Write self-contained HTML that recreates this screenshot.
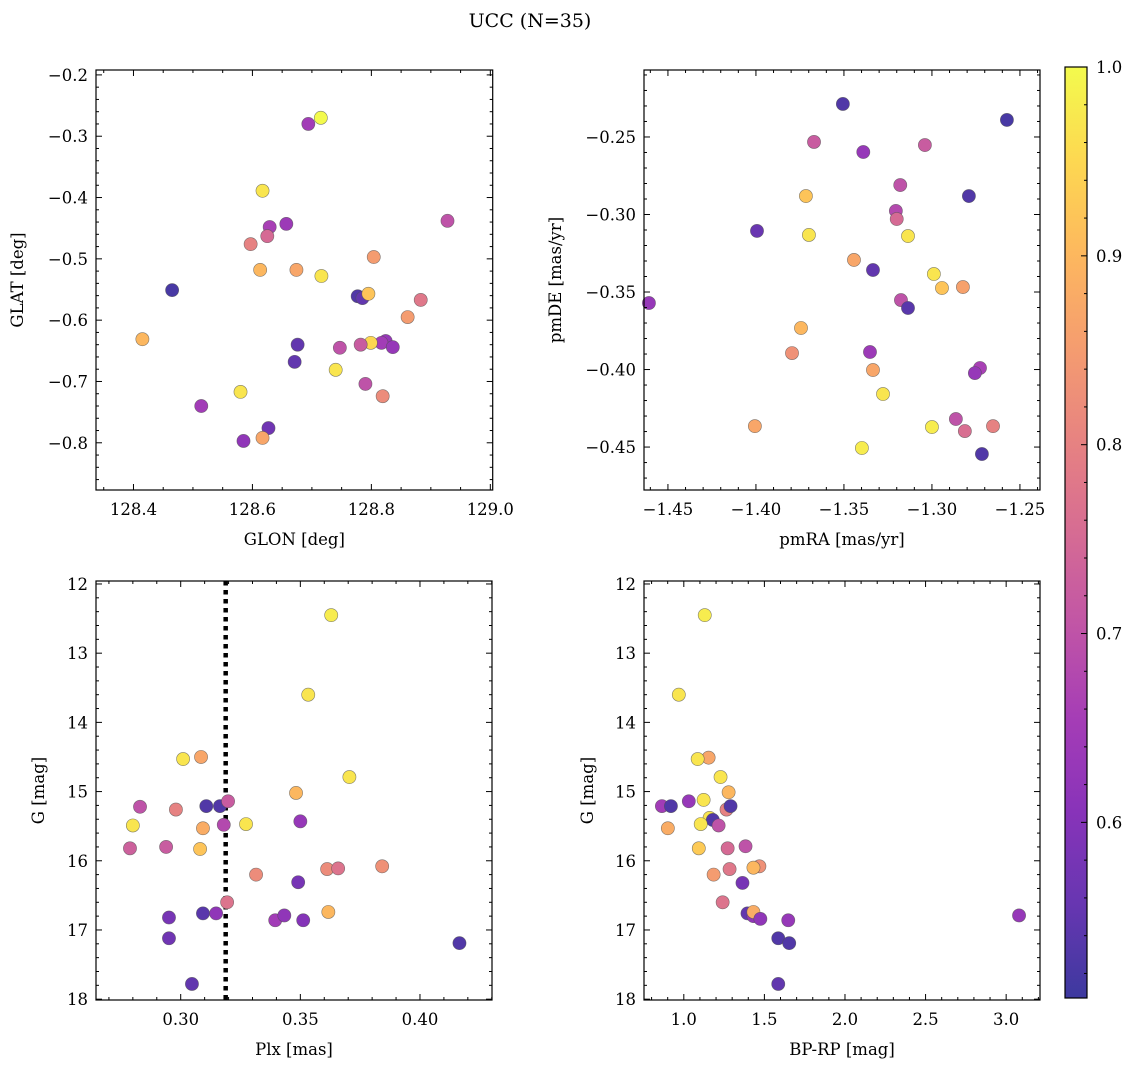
<!DOCTYPE html>
<html><head><meta charset="utf-8"><style>
html,body{margin:0;padding:0;background:#fff;}
svg{display:block;font-family:"DejaVu Serif","Liberation Serif",serif;}
</style></head><body>
<svg id="fig" width="1136" height="1067" viewBox="0 0 1136 1067" xmlns="http://www.w3.org/2000/svg">
<text x="530" y="27" font-size="19" text-anchor="middle">UCC (N=35)</text>
</svg>
<script>
// Panel 1: GLON vs GLAT
const glon=[128.715,128.694,128.617,128.928,128.657,128.629,128.625,128.597,128.804,128.613,128.674,128.716,128.465,128.777,128.785,128.795,128.883,128.861,128.415,128.676,128.824,128.817,128.836,128.799,128.782,128.747,128.671,128.740,128.790,128.580,128.819,128.514,128.627,128.617,128.585];
const glat=[-0.270,-0.280,-0.389,-0.438,-0.443,-0.448,-0.463,-0.476,-0.497,-0.518,-0.518,-0.528,-0.551,-0.561,-0.564,-0.557,-0.567,-0.595,-0.631,-0.640,-0.634,-0.637,-0.644,-0.637,-0.640,-0.645,-0.668,-0.681,-0.704,-0.717,-0.724,-0.740,-0.776,-0.792,-0.797];
const prob1=[1.0,0.65,0.97,0.7,0.64,0.66,0.75,0.8,0.85,0.9,0.87,0.97,0.52,0.53,0.55,0.92,0.78,0.85,0.9,0.55,0.63,0.65,0.63,0.95,0.72,0.7,0.55,0.97,0.7,0.97,0.82,0.65,0.57,0.87,0.62];
// Panel 2: pmRA vs pmDE
const pmra=[-1.2574,-1.3506,-1.367,-1.304,-1.339,-1.318,-1.279,-1.3716,-1.3205,-1.320,-1.3994,-1.3699,-1.3136,-1.3443,-1.2989,-1.2943,-1.2824,-1.3335,-1.3176,-1.3136,-1.4608,-1.3744,-1.3795,-1.3352,-1.3335,-1.2727,-1.2756,-1.3278,-1.2864,-1.2813,-1.2653,-1.4006,-1.300,-1.3398,-1.2716];
const pmde=[-0.239,-0.2287,-0.2532,-0.2552,-0.2597,-0.281,-0.2881,-0.2881,-0.2977,-0.3029,-0.3106,-0.3132,-0.3139,-0.3293,-0.3384,-0.3474,-0.3468,-0.3358,-0.3552,-0.3603,-0.3571,-0.3732,-0.3894,-0.3887,-0.4003,-0.399,-0.4023,-0.4158,-0.4319,-0.4397,-0.4365,-0.4365,-0.4371,-0.4506,-0.4545];
const prob2=[0.52,0.53,0.72,0.72,0.63,0.7,0.53,0.92,0.68,0.75,0.56,0.97,0.97,0.87,0.97,0.92,0.86,0.55,0.7,0.54,0.63,0.9,0.83,0.64,0.87,0.66,0.63,0.97,0.7,0.76,0.8,0.87,0.98,0.98,0.53];
// Panel 3: Plx vs G
const plx=[0.3629,0.3533,0.301,0.3085,0.3705,0.280,0.283,0.298,0.3107,0.3164,0.3198,0.318,0.3093,0.3273,0.3482,0.35,0.2788,0.2939,0.3081,0.3315,0.3491,0.3612,0.3658,0.3842,0.2951,0.3093,0.3148,0.3194,0.3395,0.3433,0.3512,0.3617,0.2951,0.4165,0.3047];
const gmag3=[12.45,13.60,14.53,14.50,14.79,15.49,15.22,15.26,15.21,15.21,15.14,15.48,15.53,15.47,15.02,15.43,15.82,15.80,15.83,16.20,16.31,16.12,16.11,16.08,16.82,16.76,16.76,16.60,16.86,16.79,16.86,16.74,17.12,17.19,17.78];
const prob3=[0.98,0.97,0.97,0.87,0.97,0.97,0.7,0.8,0.53,0.53,0.72,0.68,0.88,0.97,0.9,0.63,0.73,0.72,0.92,0.82,0.58,0.82,0.77,0.83,0.58,0.54,0.62,0.77,0.65,0.62,0.6,0.9,0.57,0.53,0.55];
// Panel 4: BP-RP vs G
const bprp=[1.13,0.969,1.154,1.086,1.228,1.278,0.864,0.920,1.123,1.031,1.16,1.18,1.105,0.901,1.216,1.265,1.29,1.093,1.272,1.383,1.185,1.284,1.469,1.432,1.364,1.241,1.395,1.432,1.432,1.475,1.648,3.08,1.586,1.654,1.586];
const gmag4=[12.45,13.60,14.51,14.53,14.79,15.01,15.21,15.21,15.12,15.14,15.38,15.41,15.47,15.53,15.49,15.26,15.21,15.82,15.82,15.79,16.20,16.12,16.08,16.10,16.32,16.60,16.76,16.80,16.74,16.84,16.86,16.79,17.12,17.19,17.78];
const prob4=[0.98,0.97,0.87,0.97,0.97,0.9,0.65,0.53,0.97,0.63,0.97,0.53,0.97,0.88,0.7,0.8,0.53,0.93,0.75,0.7,0.85,0.78,0.83,0.9,0.58,0.77,0.55,0.62,0.88,0.62,0.63,0.63,0.53,0.53,0.55];
const ticks1x=[128.4,128.6,128.8,129.0], ticks1y=[-0.2,-0.3,-0.4,-0.5,-0.6,-0.7,-0.8];
const ticks2x=[-1.45,-1.40,-1.35,-1.30,-1.25], ticks2y=[-0.25,-0.30,-0.35,-0.40,-0.45];
const ticks3x=[0.30,0.35,0.40], ticksG=[12,13,14,15,16,17,18];
const ticks4x=[1.0,1.5,2.0,2.5,3.0], ticksCb=[0.6,0.7,0.8,0.9,1.0];

const NS="http://www.w3.org/2000/svg";
const svg=document.getElementById('fig');
function el(tag,attrs,parent){const e=document.createElementNS(NS,tag);for(const k in attrs)e.setAttribute(k,attrs[k]);(parent||svg).appendChild(e);return e;}
const stops=[[13,8,135],[65,4,157],[106,0,168],[143,13,164],[177,42,144],[204,71,120],[225,100,98],[242,132,75],[252,166,54],[252,206,37],[240,249,33]];
const CMIN=0.507,CMAX=1.0;
function cmap(v){let t=(v-CMIN)/(CMAX-CMIN);t=Math.max(0,Math.min(1,t));const p=t*10,i=Math.min(9,Math.floor(p)),f=p-i;
 const c=stops[i].map((a,k)=>Math.round((a+(stops[i+1][k]-a)*f)*0.8+255*0.2));return `rgb(${c[0]},${c[1]},${c[2]})`;}
function fmt(v,d){const s=Math.abs(v).toFixed(d);return (v<0?'\u2212':'')+s;}
const FS=16.5;
function panel(o){
 const g=el('g',{});
 
 
 const X=v=>o.L+(v-o.x0)/(o.x1-o.x0)*(o.R-o.L);
 const Y=v=>o.T+(v-o.y0)/(o.y1-o.y0)*(o.B-o.T);
 if(o.vline!==undefined){const vl=el('line',{x1:X(o.vline),x2:X(o.vline),y1:o.T,y2:o.B,stroke:'#000','stroke-width':4.5,'stroke-dasharray':'4.5 4.5'},g);
  
  }
 for(let i=0;i<o.xs.length;i++){
  const c=el('circle',{cx:X(o.xs[i]),cy:Y(o.ys[i]),r:6.6,fill:cmap(o.cs[i]),stroke:'rgba(80,80,80,0.7)','stroke-width':0.6},g);
  
  
 }
 const fr=el('rect',{x:o.L,y:o.T,width:o.R-o.L,height:o.B-o.T,fill:'none',stroke:'#000','stroke-width':1.2},g);
 
 
 const tk=(x1,y1,x2,y2)=>el('line',{x1,y1,x2,y2,stroke:'#000','stroke-width':1},g);
 const lo=Math.min(o.x0,o.x1),hi=Math.max(o.x0,o.x1);
 for(let k=Math.ceil(lo/o.xm-1e-6);k*o.xm<=hi+1e-9;k++){const x=X(k*o.xm);const maj=Math.abs(k*o.xm/o.xM-Math.round(k*o.xm/o.xM))<1e-6;const l=maj?6:3;tk(x,o.B,x,o.B-l);tk(x,o.T,x,o.T+l);}
 const ylo=Math.min(o.y0,o.y1),yhi=Math.max(o.y0,o.y1);
 for(let k=Math.ceil(ylo/o.ym-1e-6);k*o.ym<=yhi+1e-9;k++){const y=Y(k*o.ym);const maj=Math.abs(k*o.ym/o.yM-Math.round(k*o.ym/o.yM))<1e-6;const l=maj?6:3;tk(o.L,y,o.L+l,y);tk(o.R,y,o.R-l,y);}
 o.xt.forEach(v=>{const t=el('text',{x:X(v),y:o.B+25,'font-size':FS,'text-anchor':'middle'},g);t.textContent=fmt(v,o.xd);
  });
 o.yt.forEach(v=>{const t=el('text',{x:o.L-8,y:Y(v)+6,'font-size':FS,'text-anchor':'end'},g);t.textContent=fmt(v,o.yd);
  });
 const xl=el('text',{x:(o.L+o.R)/2,y:o.B+55,'font-size':FS,'text-anchor':'middle'},g);xl.textContent=o.xlab;
 
 const yl=el('text',{x:o.ylx,y:(o.T+o.B)/2,'font-size':FS,'text-anchor':'middle',transform:`rotate(-90 ${o.ylx} ${(o.T+o.B)/2})`},g);yl.textContent=o.ylab;
 
}
panel({name:'glon-glat-panel',L:96,R:492.7,T:70,B:490,x0:128.337,x1:129.004,y0:-0.192,y1:-0.877,xs:glon,ys:glat,cs:prob1,xM:0.2,xm:0.05,yM:0.1,ym:0.02,xt:ticks1x,yt:ticks1y,xd:1,yd:1,xlab:'GLON [deg]',ylab:'GLAT [deg]',ylx:23});
panel({name:'pm-panel',L:644,R:1040,T:70,B:490,x0:-1.4636,x1:-1.2386,y0:-0.2068,y1:-0.4777,xs:pmra,ys:pmde,cs:prob2,xM:0.05,xm:0.01,yM:0.05,ym:0.01,xt:ticks2x,yt:ticks2y,xd:2,yd:2,xlab:'pmRA [mas/yr]',ylab:'pmDE [mas/yr]',ylx:561});
panel({name:'plx-g-panel',L:96,R:492,T:581,B:1000,x0:0.2646,x1:0.4301,y0:11.957,y1:18.012,xs:plx,ys:gmag3,cs:prob3,xM:0.05,xm:0.01,yM:1,ym:0.2,xt:ticks3x,yt:ticksG,xd:2,yd:0,xlab:'Plx [mas]',ylab:'G [mag]',ylx:44,vline:0.3188});
panel({name:'cmd-panel',L:644,R:1040,T:581,B:1000,x0:0.753,x1:3.21,y0:11.957,y1:18.012,xs:bprp,ys:gmag4,cs:prob4,xM:0.5,xm:0.1,yM:1,ym:0.2,xt:ticks4x,yt:ticksG,xd:1,yd:0,xlab:'BP-RP [mag]',ylab:'G [mag]',ylx:593});

// colorbar
const cbg=el('g',{});


const CT=67,CB=998,CL=1065,CR=1087;
const defs=el('defs',{},cbg);const lg=el('linearGradient',{id:'cbgrad',x1:0,y1:1,x2:0,y2:0},defs);
for(let i=0;i<=20;i++){const v=CMIN+(CMAX-CMIN)*i/20;el('stop',{offset:i/20,'stop-color':cmap(v)},lg);}
el('rect',{x:CL,y:CT,width:CR-CL,height:CB-CT,fill:'url(#cbgrad)',stroke:'#000','stroke-width':1.2},cbg);
const CY=v=>CB-(v-CMIN)/(CMAX-CMIN)*(CB-CT);
for(let k=26;k<=50;k++){const v=k*0.02;if(v<CMIN)continue;const y=CY(v);const maj=k%5==0;el('line',{x1:CR,x2:CR-(maj?6:3),y1:y,y2:y,stroke:'#000','stroke-width':1},cbg);}
ticksCb.forEach(v=>{const t=el('text',{x:CR+9,y:CY(v)+6,'font-size':FS},cbg);t.textContent=v.toFixed(1);
 });
</script>
</body></html>
